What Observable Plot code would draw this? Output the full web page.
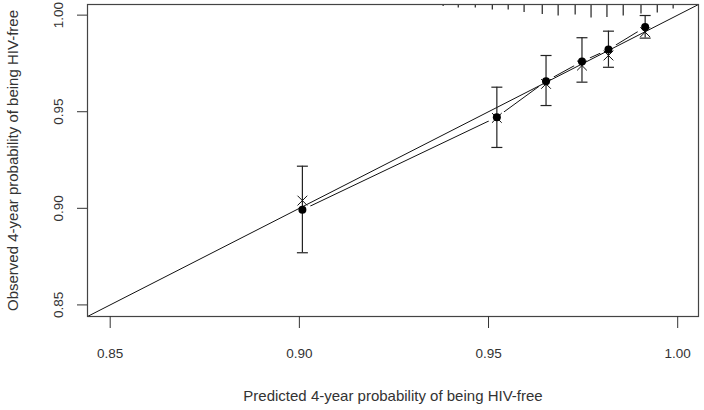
<!DOCTYPE html>
<html><head><meta charset="utf-8">
<script src="https://cdn.jsdelivr.net/npm/d3@7"></script>
<script src="https://cdn.jsdelivr.net/npm/@observablehq/plot@0.6"></script>
<style>body{margin:0;background:#fff} svg{display:block}</style>
</head><body><div id="chart"></div>
<script>
// Calibration data
const predicted = [0.9008, 0.9522, 0.9652, 0.9747, 0.9817, 0.9914];
const observed  = [0.8992, 0.9472, 0.9658, 0.9760, 0.9822, 0.9938];
const lower     = [0.8770, 0.9315, 0.9532, 0.9653, 0.9730, 0.9881];
const upper     = [0.9218, 0.9627, 0.9791, 0.9883, 0.9917, 0.9998];
const corrected = [0.9040, 0.9468, 0.9644, 0.9739, 0.9791, 0.9912];
// Distribution of predicted risk (rug along top)
const rugX    = [0.9380, 0.9420, 0.9465, 0.9510, 0.9552, 0.9594, 0.9642, 0.9684, 0.9729, 0.9771, 0.9813, 0.9856, 0.9903, 0.9946, 0.9988];
const rugFreq = [4, 7, 7, 11, 11, 16, 20, 23, 21, 27, 26, 23, 19, 17, 9];
const tickValues = [0.85, 0.90, 0.95, 1.00];
const xTitle = "Predicted 4-year probability of being HIV-free";
const yTitle = "Observed 4-year probability of being HIV-free";
const limits = [0.844, 1.0055];

const points = predicted.map((p, i) => ({pred: p, obs: observed[i], lo: lower[i], hi: upper[i], corr: corrected[i]}));
const rug = rugX.map((x, i) => ({x, f: rugFreq[i]}));
const rugUnit = (limits[1] - limits[0]) / 312 * 0.5;

const cap = {draw(ctx, size) { const w = Math.sqrt(size / Math.PI); ctx.moveTo(-w, 0); ctx.lineTo(w, 0); }};
const ink = "#111";
const font = "'Liberation Sans', Arial, sans-serif";

const chart = Plot.plot({
  width: 704, height: 410,
  marginLeft: 87, marginRight: 6, marginTop: 4, marginBottom: 94,
  x: {domain: limits, axis: null},
  y: {domain: limits, axis: null},
  style: {fontFamily: font, fontSize: "13px", background: "#fff"},
  marks: [
    Plot.line(points, {x: "pred", y: "obs", stroke: ink, strokeWidth: 1}),
    Plot.dot(points, {x: "pred", y: "obs", r: 9, fill: "white", stroke: "none"}),
    Plot.line(limits, {x: d => d, y: d => d, stroke: ink, strokeWidth: 1}),
    Plot.ruleX(points, {x: "pred", y1: "lo", y2: "hi", stroke: "#222", strokeWidth: 1.2}),
    Plot.dot(points, {x: "pred", y: "lo", symbol: cap, r: 5.5, stroke: "#222", strokeWidth: 1.2}),
    Plot.dot(points, {x: "pred", y: "hi", symbol: cap, r: 5.5, stroke: "#222", strokeWidth: 1.2}),
    Plot.ruleX(rug, {x: "x", y1: limits[1], y2: d => limits[1] - d.f * rugUnit, stroke: "#222", strokeWidth: 1.2}),
    Plot.dot(points, {x: "pred", y: "corr", symbol: "times", r: 4.5, stroke: ink, strokeWidth: 1}),
    Plot.dot(points, {x: "pred", y: "obs", r: 4, fill: "#000", stroke: "none"}),
    Plot.frame({stroke: "#444", strokeWidth: 1.2}),
    Plot.axisX(tickValues, {tickSize: 12, tickFormat: () => "", stroke: "#333", label: null}),
    Plot.axisY(tickValues, {tickSize: 10, tickFormat: () => "", stroke: "#333", label: null}),
    Plot.text(tickValues, {x: d => d, frameAnchor: "bottom", dy: 37, lineAnchor: "middle", text: d => d.toFixed(2), fontSize: 13.5, fill: "#333"}),
    Plot.text(tickValues, {y: d => d, frameAnchor: "left", dx: -29, rotate: -90, textAnchor: "middle", lineAnchor: "middle", text: d => d.toFixed(2), fontSize: 13.5, fill: "#333"}),
    Plot.text([xTitle], {frameAnchor: "bottom", dy: 80, lineAnchor: "middle", text: d => d, fontSize: 15, fill: "#333"}),
    Plot.text([yTitle], {frameAnchor: "left", dx: -74, rotate: -90, textAnchor: "middle", lineAnchor: "middle", text: d => d, fontSize: 15, fill: "#333"})
  ]
});
document.getElementById("chart").appendChild(chart);
</script>
</body></html>
